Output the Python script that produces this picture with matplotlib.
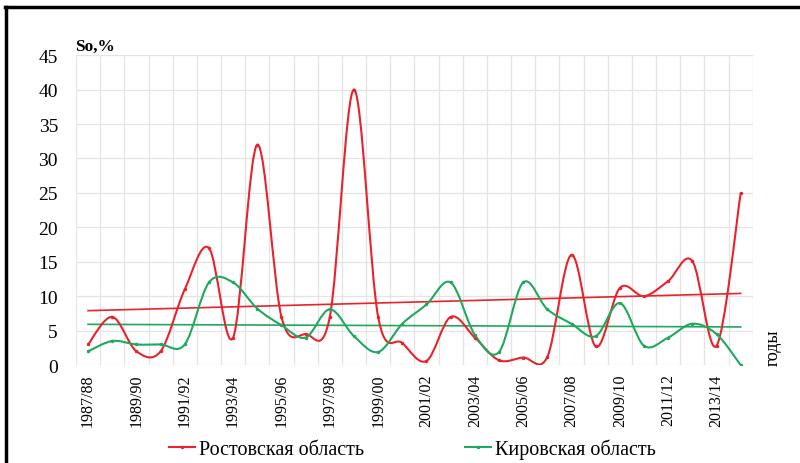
import numpy as np
import matplotlib
matplotlib.use("Agg")
import matplotlib.pyplot as plt
from matplotlib.lines import Line2D
from matplotlib.path import Path
from matplotlib.patches import PathPatch

years = ["1987/88", "1988/89", "1989/90", "1990/91", "1991/92", "1992/93", "1993/94",
         "1994/95", "1995/96", "1996/97", "1997/98", "1998/99", "1999/00", "2000/01",
         "2001/02", "2002/03", "2003/04", "2004/05", "2005/06", "2006/07", "2007/08",
         "2008/09", "2009/10", "2010/11", "2011/12", "2012/13", "2013/14", "2014/15"]
rostov = [3, 7, 2, 2, 11, 17, 4, 32, 7, 4.5, 7, 40, 7, 3.2, 0.6, 7, 4, 0.7, 1.1, 1.2,
          16, 2.7, 11.2, 10, 12.2, 15.1, 2.8, 25]
kirov = [2, 3.5, 3, 3, 3, 12, 12, 8.2, 5.8, 4, 8.1, 4.2, 1.9, 6, 8.8, 12, 4.4, 1.9,
         12, 8.1, 6, 4.2, 9, 2.8, 4, 6, 4.5, 0]
label_r = "Ростовская область"
label_k = "Кировская область"

plt.rcParams['font.family'] = ['Liberation Serif', 'DejaVu Serif']

fig = plt.figure(figsize=(8, 4.64), dpi=100)
ax = fig.add_axes([0.095, 0.211, 0.846, 0.668])

x = np.arange(len(years))


def smooth_path(xs, ys):
    pts = np.column_stack([xs, ys]).astype(float)
    n = len(pts)
    verts = [pts[0]]
    codes = [Path.MOVETO]
    for i in range(n - 1):
        p0 = pts[i - 1] if i > 0 else pts[i]
        p1 = pts[i]
        p2 = pts[i + 1]
        p3 = pts[i + 2] if i + 2 < n else pts[i + 1]
        c1 = p1 + (p2 - p0) / 6.0
        c2 = p2 - (p3 - p1) / 6.0
        verts += [c1, c2, p2]
        codes += [Path.CURVE4] * 3
    return Path(verts, codes)


red = "#e8232b"
green = "#20a85e"

for data, col in ((rostov, red), (kirov, green)):
    ax.add_patch(PathPatch(smooth_path(x, data), fill=False, edgecolor=col, lw=1.5, zorder=3))
    ax.plot(x, data, ls='none', marker='o', ms=1.5, color=col, zorder=4)
    k, b = np.polyfit(x + 1, data, 1)
    ax.plot(x, k * (x + 1) + b, color=col, lw=1.2, zorder=2)

ax.set_xlim(-0.5, len(years) - 0.5)
ax.set_ylim(0, 45)
ax.set_yticks(np.arange(0, 46, 5))
ax.set_xticks(x[::2])
ax.set_xticklabels(years[::2], rotation=90, fontsize=11.5)
ax.set_xticks(np.arange(-0.5, len(years), 1), minor=True)
ax.tick_params(axis='x', which='both', length=0, pad=6)
ax.tick_params(axis='y', length=0, labelsize=14, pad=13)
ax.grid(False)
ax.grid(True, which='minor', axis='x', color='#e4e4e4', lw=0.9)
ax.grid(True, which='major', axis='y', color='#e4e4e4', lw=0.9)
for s in ax.spines.values():
    s.set_visible(False)
ax.set_axisbelow(True)

fig.text(0.094, 0.9, "So,%", fontsize=12.5, fontweight='bold', ha='left', va='center')
fig.text(0.966, 0.25, "годы", fontsize=13, rotation=90, ha='center', va='center')

handles = [Line2D([], [], color=red, lw=1.5, marker='o', ms=1.5),
           Line2D([], [], color=green, lw=1.5, marker='o', ms=1.5)]
fig.legend(handles, [label_r, label_k], loc='center', bbox_to_anchor=(0.516, 0.03),
           ncol=2, frameon=False, fontsize=14.5, handlelength=1.3, handletextpad=0.2,
           columnspacing=5.0)

fig.add_artist(Line2D([0.008, 0.008], [0, 0.983], transform=fig.transFigure, color='black', lw=2.5))
fig.add_artist(Line2D([0.006, 1.0], [0.983, 0.983], transform=fig.transFigure, color='black', lw=2.5))

fig.savefig("out.png", dpi=100)
